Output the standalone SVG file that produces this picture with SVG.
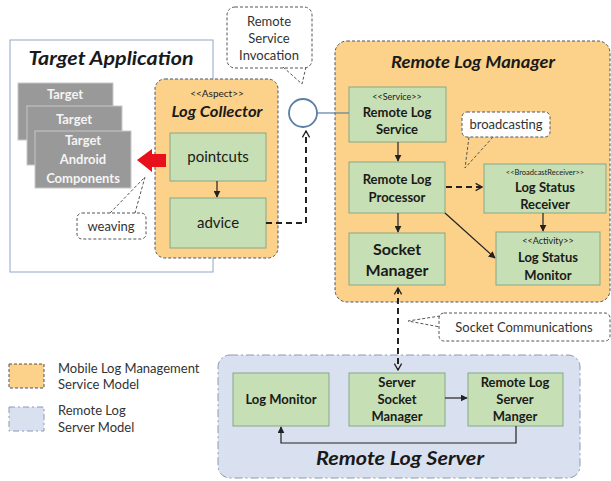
<svg xmlns="http://www.w3.org/2000/svg" width="611" height="481" viewBox="0 0 611 481">
<style>
text{font-family:Lato,"Open Sans","Liberation Sans",sans-serif;fill:#1a1a1a;text-anchor:middle}
.title{font-weight:bold;font-style:italic}
.b{font-weight:bold;font-size:13px}
.st{font-size:9px}
.cl{font-size:13px;fill:#333}
.orange{fill:#fcd28a;stroke:#555;stroke-width:1;stroke-dasharray:3 2}
.blue{fill:#d9e1f1;stroke:#8a9ab4;stroke-width:1;stroke-dasharray:8 3 2 3}
.green{fill:#c7dfb4;stroke:#86a886;stroke-width:1}
.gray{fill:#999;stroke:#c8c8c8;stroke-width:1}
.gt{font-weight:bold;font-size:13px;fill:#f4f4f4}
.callout{fill:#fff;stroke:#555;stroke-width:1;stroke-dasharray:3 2}
.wedge{fill:none;stroke:#555;stroke-width:1;stroke-dasharray:3 2}
.arr{fill:none;stroke:#222;stroke-width:1.2;marker-end:url(#tri)}
.darr{fill:none;stroke:#222;stroke-width:2;stroke-dasharray:6 4}
</style>
<defs>
<marker id="tri" viewBox="0 0 10 10" refX="9" refY="5" markerWidth="7" markerHeight="7" markerUnits="userSpaceOnUse" orient="auto"><path d="M0,0 L10,5 L0,10 z" fill="#222"/></marker>
<marker id="open" viewBox="0 0 10 10" refX="9" refY="5" markerWidth="8" markerHeight="10" markerUnits="userSpaceOnUse" orient="auto-start-reverse"><path d="M1,0.5 L9,5 L1,9.5" fill="none" stroke="#222" stroke-width="1.6"/></marker>
</defs>
<rect width="611" height="481" fill="#fff"/>

<g id="target-application">
<rect x="10" y="40" width="203" height="232" fill="#fff" stroke="#8fa8c8" stroke-width="1"/>
<text class="title" x="111" y="65" font-size="18" textLength="165" lengthAdjust="spacingAndGlyphs">Target Application</text>
<rect class="gray" x="18" y="83" width="95" height="57"/>
<text class="gt" x="65" y="99">Target</text>
<rect class="gray" x="27" y="106" width="95" height="59"/>
<text class="gt" x="74" y="124">Target</text>
<rect class="gray" x="35" y="131" width="96" height="57"/>
<text class="gt" x="83" y="145">Target</text>
<text class="gt" x="83" y="164">Android</text>
<text class="gt" x="83" y="183">Components</text>
</g>

<g id="log-collector">
<rect class="orange" x="155" y="79" width="123" height="179" rx="10"/>
<text x="217" y="97" font-size="10">&lt;&lt;Aspect&gt;&gt;</text>
<text class="title" x="217" y="117" font-size="16" textLength="91" lengthAdjust="spacingAndGlyphs">Log Collector</text>
</g>
<g id="pointcuts">
<rect class="green" x="170" y="133" width="96" height="48"/>
<text x="218" y="162" font-size="15">pointcuts</text>
</g>
<g id="advice">
<rect class="green" x="170" y="198" width="96" height="50"/>
<text x="218" y="228" font-size="15">advice</text>
</g>

<g id="interface">
<circle cx="303" cy="113" r="14" fill="#fff" stroke="#5b7fa6" stroke-width="1.8"/>
</g>

<g id="remote-log-manager">
<rect class="orange" x="335" y="41" width="275" height="261" rx="12"/>
<text class="title" x="473" y="68" font-size="17" textLength="164" lengthAdjust="spacingAndGlyphs">Remote Log Manager</text>
</g>
<g id="remote-log-service">
<rect class="green" x="349" y="87" width="97" height="55"/>
<text class="st" x="397" y="100">&lt;&lt;Service&gt;&gt;</text>
<text class="b" x="397" y="117">Remote Log</text>
<text class="b" x="397" y="134">Service</text>
</g>
<g id="remote-log-processor">
<rect class="green" x="349" y="162" width="96" height="51"/>
<text class="b" x="397" y="184">Remote Log</text>
<text class="b" x="397" y="202">Processor</text>
</g>
<g id="log-status-receiver">
<rect class="green" x="484" y="164" width="122" height="49"/>
<text x="545" y="175" font-size="7.5">&lt;&lt;BroadcastReceiver&gt;&gt;</text>
<text class="b" x="545" y="192">Log Status</text>
<text class="b" x="545" y="209">Receiver</text>
</g>
<g id="socket-manager">
<rect class="green" x="349" y="233" width="96" height="52"/>
<text x="397" y="255" font-size="16" font-weight="bold">Socket</text>
<text x="397" y="276" font-size="16" font-weight="bold">Manager</text>
</g>
<g id="log-status-monitor">
<rect class="green" x="496" y="232" width="104" height="53"/>
<text class="st" x="548" y="244">&lt;&lt;Activity&gt;&gt;</text>
<text class="b" x="548" y="262">Log Status</text>
<text class="b" x="548" y="280">Monitor</text>
</g>

<g id="remote-log-server">
<rect class="blue" x="218" y="355" width="362" height="123" rx="12"/>
<text class="title" x="400" y="465" font-size="19" textLength="168" lengthAdjust="spacingAndGlyphs">Remote Log Server</text>
</g>
<g id="log-monitor">
<rect class="green" x="233" y="373" width="96" height="53"/>
<text class="b" x="281" y="404">Log Monitor</text>
</g>
<g id="server-socket-manager">
<rect class="green" x="349" y="373" width="96" height="53"/>
<text class="b" x="397" y="387">Server</text>
<text class="b" x="397" y="404">Socket</text>
<text class="b" x="397" y="421">Manager</text>
</g>
<g id="remote-log-server-manger">
<rect class="green" x="468" y="373" width="95" height="53"/>
<text class="b" x="515" y="387">Remote Log</text>
<text class="b" x="515" y="404">Server</text>
<text class="b" x="515" y="421">Manger</text>
</g>

<g id="connectors">
<polygon points="137,160 152,149 152,154 166,154 166,167 152,167 152,172" fill="#e8101a"/>
<line class="arr" x1="217" y1="181" x2="217" y2="197"/>
<path class="darr" d="M266,223 H306 V131" marker-end="url(#open)"/>
<line x1="317" y1="113" x2="349" y2="113" stroke="#5b7fa6" stroke-width="1.2"/>
<line class="arr" x1="398" y1="142" x2="398" y2="161"/>
<line class="arr" x1="398" y1="213" x2="398" y2="232"/>
<line class="arr" x1="445" y1="213" x2="495" y2="258"/>
<line class="arr" x1="543" y1="213" x2="543" y2="231"/>
<line class="darr" x1="446" y1="187" x2="482" y2="187" marker-end="url(#open)"/>
<line class="darr" x1="398" y1="288" x2="398" y2="370" marker-start="url(#open)" marker-end="url(#open)"/>
<line class="arr" x1="445" y1="398" x2="467" y2="398"/>
<path class="arr" d="M516,426 V443 H281 V427"/>
</g>

<g id="callout-remote-service-invocation">
<rect class="callout" x="227" y="7" width="85" height="61" rx="8"/>
<path class="wedge" d="M283,67 L302,84 L306,67"/>
<text class="cl" x="269" y="26">Remote</text>
<text class="cl" x="269" y="43">Service</text>
<text class="cl" x="269" y="60">Invocation</text>
</g>
<g id="callout-broadcasting">
<rect class="callout" x="462" y="112" width="88" height="25" rx="5"/>
<path class="wedge" d="M469,137 L465,168 L493,137"/>
<text class="cl" x="506" y="129">broadcasting</text>
</g>
<g id="callout-weaving">
<rect class="callout" x="77" y="213" width="69" height="26" rx="5"/>
<path class="wedge" d="M110,213 L145,177 L135,213"/>
<text class="cl" x="111" y="231">weaving</text>
</g>
<g id="callout-socket">
<rect class="callout" x="439" y="313" width="171" height="28" rx="5"/>
<path class="wedge" d="M440,316 L408,321 L440,327"/>
<text class="cl" x="524" y="332">Socket Communications</text>
</g>

<g id="legend">
<rect class="orange" x="9" y="364" width="35" height="24"/>
<text class="cl" x="58" y="373" style="text-anchor:start">Mobile Log Management</text>
<text class="cl" x="58" y="389" style="text-anchor:start">Service Model</text>
<rect class="blue" x="9" y="407" width="35" height="24" style="stroke-dasharray:6 3 2 3"/>
<text class="cl" x="58" y="415" style="text-anchor:start">Remote Log</text>
<text class="cl" x="58" y="432" style="text-anchor:start">Server Model</text>
</g>
</svg>
